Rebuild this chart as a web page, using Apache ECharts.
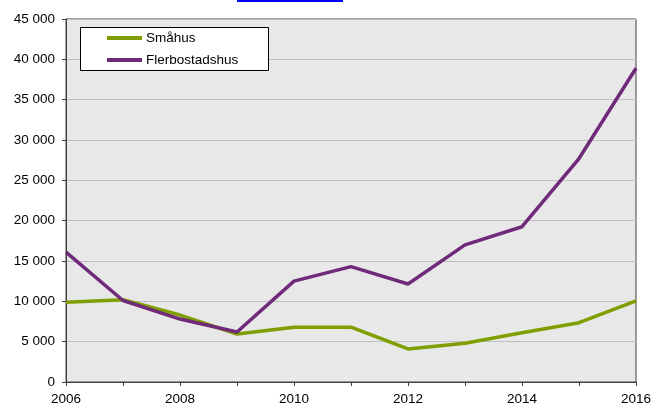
<!DOCTYPE html>
<html><head><meta charset="utf-8">
<script src="https://cdn.jsdelivr.net/npm/echarts@6/dist/echarts.min.js"></script>
<style>html,body{margin:0;padding:0;background:#fff}#c{width:652px;height:403px}</style>
</head><body><div id="c"></div>
<script>
const years = ['2006','2007','2008','2009','2010','2011','2012','2013','2014','2015','2016'];
const smahus = [9900, 10200, 8300, 5950, 6800, 6800, 4100, 4800, 6100, 7350, 10050];
const flerbostadshus = [16100, 10100, 7800, 6200, 12500, 14300, 12150, 17000, 19250, 27700, 38900];
const seriesNames = ['Småhus', 'Flerbostadshus'];

const chart = echarts.init(document.getElementById('c'), null, {renderer:'canvas'});
const fmt = v => String(v).replace(/\B(?=(\d{3})+(?!\d))/g, ' ');
const font = 'Liberation Sans, Arial, sans-serif';
chart.setOption({
  animation:false,
  grid:{left:66, right:16, top:19, bottom:21, containLabel:false, outerBoundsMode:'none', show:true, backgroundColor:'#e8e8e8', borderColor:'#404040', borderWidth:1},
  graphic:[
    {type:'rect', shape:{x:237,y:0,width:106,height:2}, style:{fill:'#0000ff'}},
    {type:'rect', shape:{x:80.5,y:27.5,width:188,height:43}, style:{fill:'#ffffff', stroke:'#000', lineWidth:1}, z:10}
  ],
  legend:{
    left:102, top:26, orient:'vertical', itemGap:8, itemWidth:35, itemHeight:4,
    icon:'rect', z:20,
    textStyle:{fontFamily:font, fontSize:13.5, color:'#000', padding:[0,0,0,-1]},
    data:seriesNames
  },
  xAxis:{
    type:'category', data:years, boundaryGap:false,
    axisLine:{lineStyle:{color:'#404040', width:1}},
    axisTick:{show:true, interval:0, length:4, lineStyle:{color:'#404040'}},
    axisLabel:{interval:1, fontFamily:font, fontSize:13.5, color:'#000', margin:10.5},
    splitLine:{show:false}
  },
  yAxis:{
    type:'value', min:0, max:45000, interval:5000,
    axisLine:{show:true, lineStyle:{color:'#404040', width:1}},
    axisTick:{show:true, length:4, lineStyle:{color:'#404040'}},
    axisLabel:{fontFamily:font, fontSize:13.5, color:'#000', margin:11, formatter:fmt},
    splitLine:{lineStyle:{color:'#c0c0c0', width:1}}
  },
  series:[
    {name:seriesNames[0], type:'line', data:smahus, symbol:'none', lineStyle:{color:'#7f9f00', width:3.5}, itemStyle:{color:'#7f9f00'}, z:3},
    {name:seriesNames[1], type:'line', data:flerbostadshus, symbol:'none', lineStyle:{color:'#6f2a7a', width:3.5}, itemStyle:{color:'#6f2a7a'}, z:4}
  ]
});
</script></body></html>
